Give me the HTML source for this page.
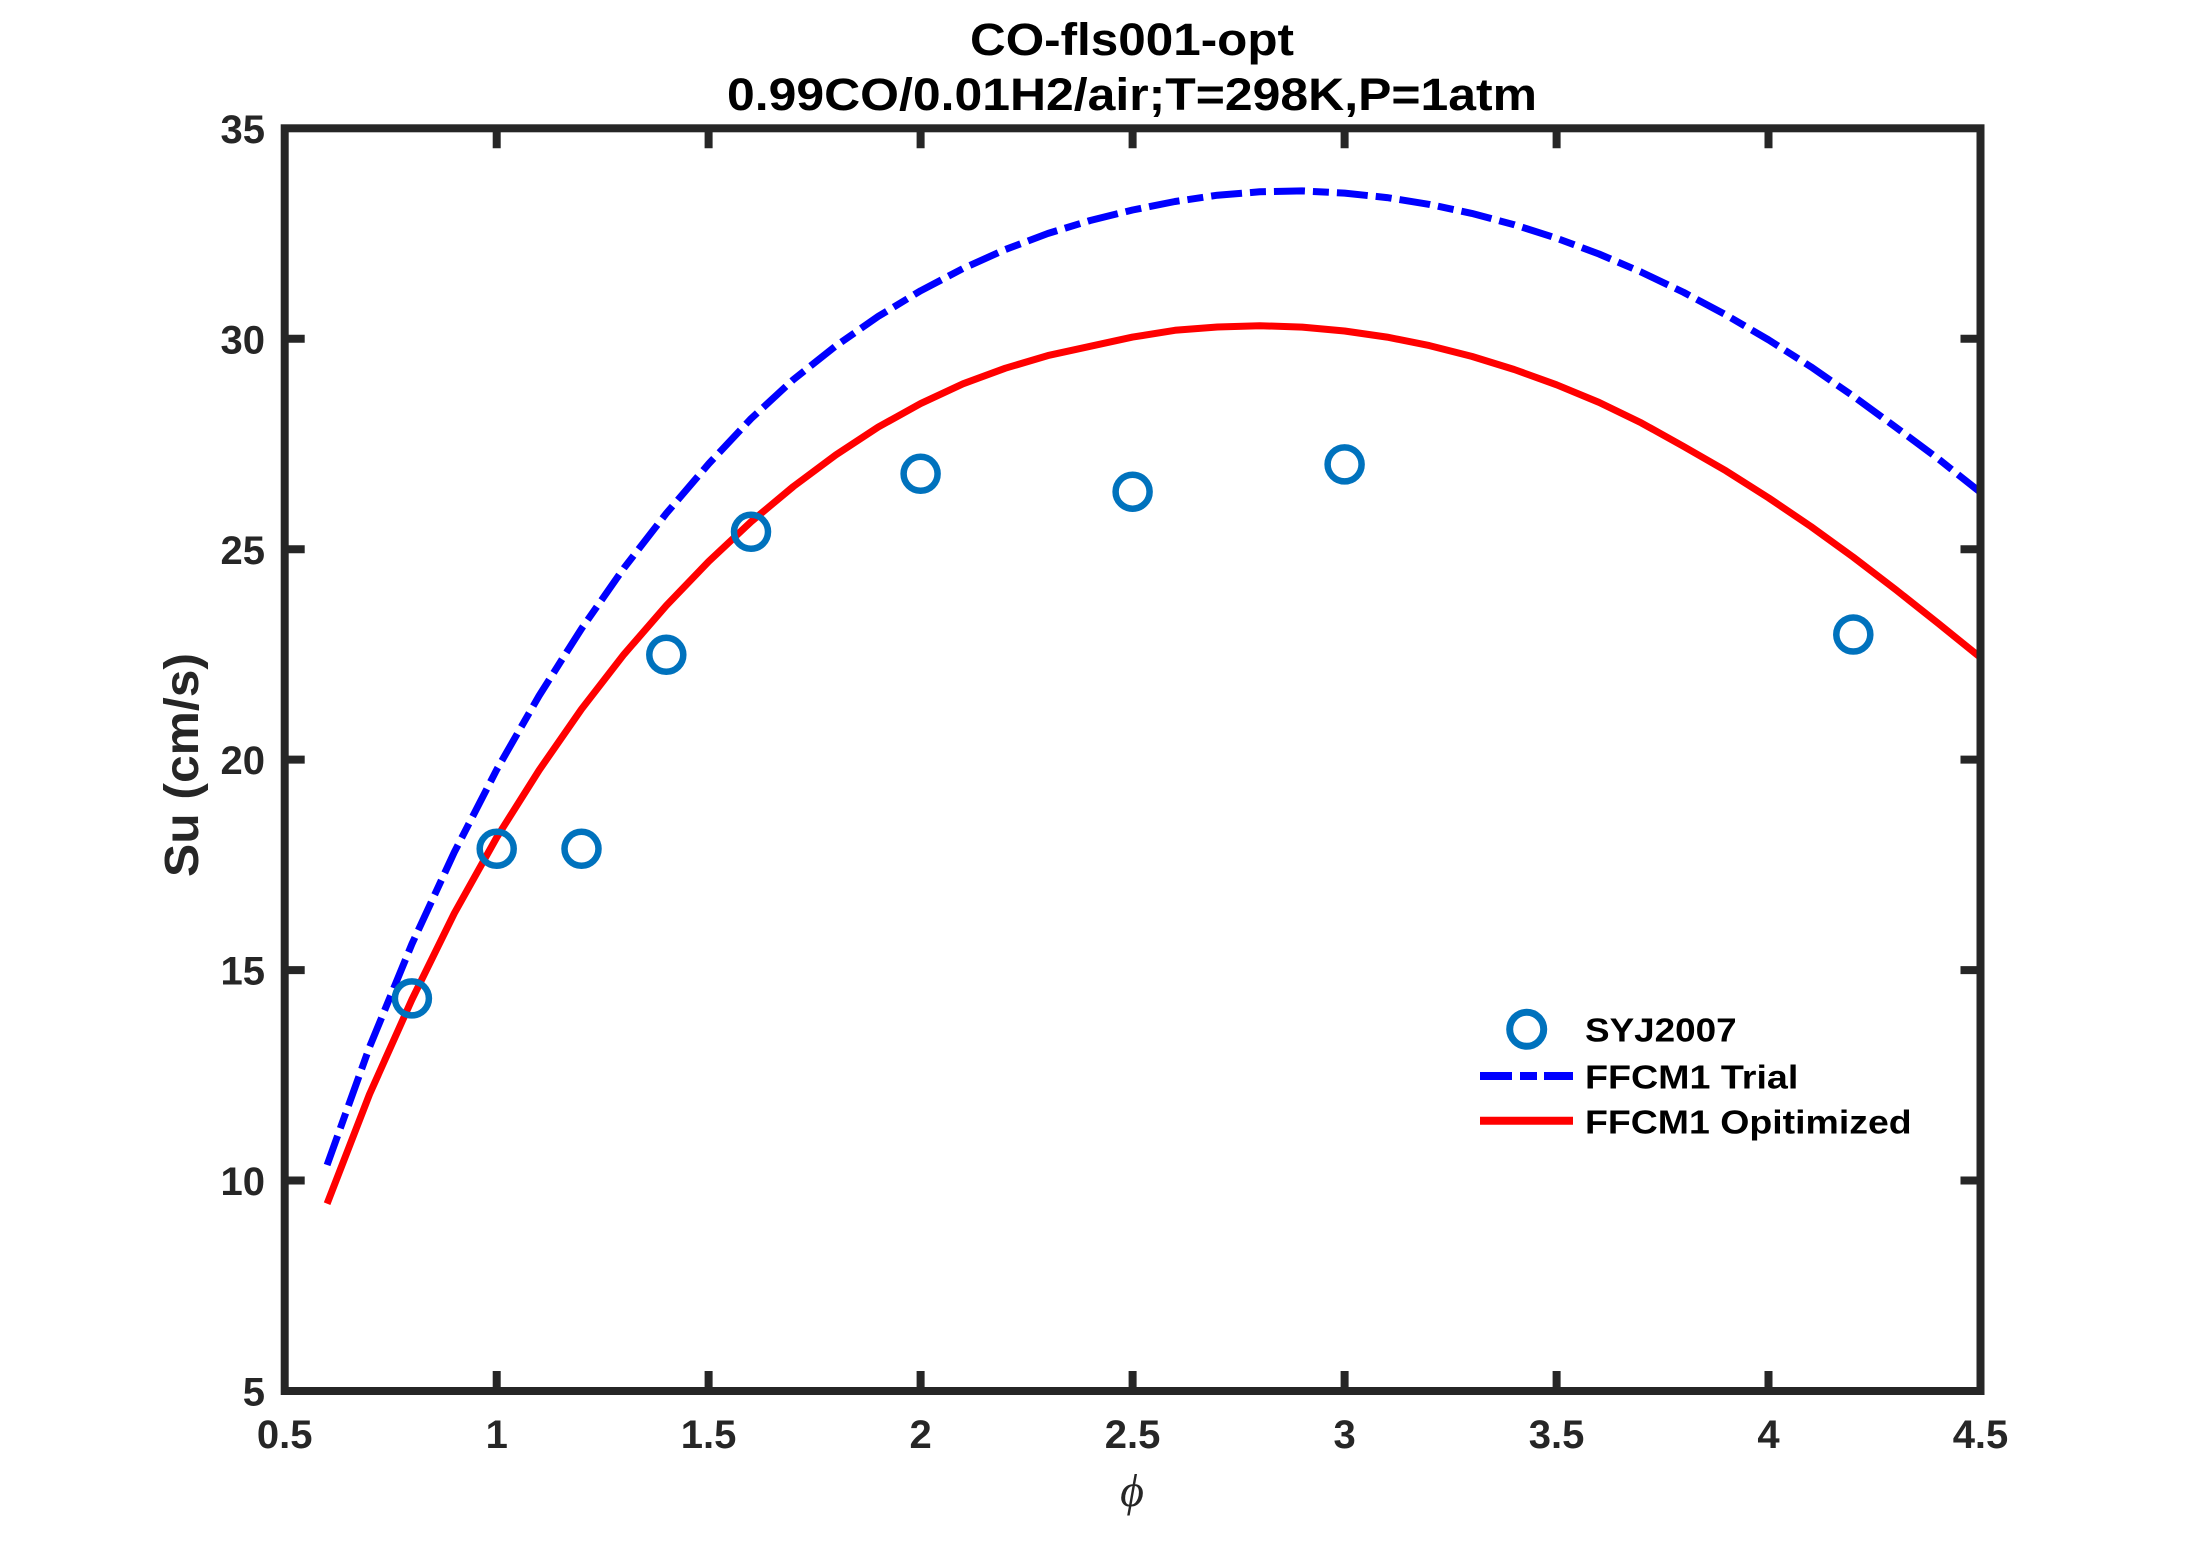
<!DOCTYPE html>
<html>
<head>
<meta charset="utf-8">
<style>
html,body{margin:0;padding:0;background:#fff;}
svg{display:block;}
</style>
</head>
<body>
<svg width="2187" height="1563" viewBox="0 0 2187 1563" xmlns="http://www.w3.org/2000/svg">
<rect x="0" y="0" width="2187" height="1563" fill="#ffffff"/>

<!-- Title -->
<g font-family="Liberation Sans, Arial, sans-serif" font-weight="bold" fill="#000" text-anchor="middle">
<text x="1132" y="55" font-size="45" textLength="324" lengthAdjust="spacingAndGlyphs">CO-fls001-opt</text>
<text x="1132" y="110" font-size="45" textLength="810" lengthAdjust="spacingAndGlyphs">0.99CO/0.01H2/air;T=298K,P=1atm</text>
</g>

<defs>
<clipPath id="ax"><rect x="284.7" y="128.3" width="1695.8" height="1262.7"/></clipPath>
</defs>

<!-- Data -->
<g clip-path="url(#ax)" fill="none" stroke-linejoin="round">
<polyline stroke="#0000ff" stroke-width="7" stroke-dasharray="31 8 16 8" stroke-linecap="butt"
points="327.1,1165 369.5,1047.1 411.9,944 454.3,852.2 496.7,769.7 539.1,695.7 581.5,628.7 623.9,568.1 666.3,513.4 708.7,463.8 751,418.7 793.4,379.6 835.8,345.9 878.2,316.4 920.6,290.8 963,268.5 1005.4,249.5 1047.8,233.5 1090.2,220.5 1132.6,210 1175,201.5 1217.4,195.2 1259.8,191.8 1302.2,190.9 1344.6,193.1 1387,197.6 1429.4,204.4 1471.8,213.4 1514.2,224.7 1556.6,238.2 1599,254 1641.3,272.1 1683.7,292.4 1726.1,315 1768.5,339.8 1810.9,366.8 1853.3,396.2 1895.7,427.2 1938.1,458.7 1980.5,492.4"/>
<polyline stroke="#ff0000" stroke-width="7"
points="327.1,1203.7 369.5,1094.3 411.9,999.6 454.3,913.3 496.7,837.5 539.1,770.2 581.5,709.1 623.9,654.4 666.3,605.6 708.7,561.4 751,521.8 793.4,486.5 835.8,454.9 878.2,427.1 920.6,403.6 963,383.8 1005.4,368.2 1047.8,355.6 1090.2,346.3 1132.6,337.1 1175,330.3 1217.4,327 1259.8,325.7 1302.2,327.1 1344.6,331 1387,337.1 1429.4,345.6 1471.8,356.4 1514.2,369.5 1556.6,384.8 1599,402.4 1641.3,422.9 1683.7,446.5 1726.1,470.9 1768.5,497.8 1810.9,526.5 1853.3,557.2 1895.7,589.6 1938.1,623.3 1980.5,657.5"/>
<g stroke="#0072bd" stroke-width="6.5">
<circle cx="411.9" cy="998.4" r="17"/>
<circle cx="496.7" cy="848.8" r="17"/>
<circle cx="581.5" cy="848.8" r="17"/>
<circle cx="666.3" cy="654.8" r="17"/>
<circle cx="751" cy="531.8" r="17"/>
<circle cx="920.6" cy="473.8" r="17"/>
<circle cx="1132.6" cy="491.7" r="17"/>
<circle cx="1344.6" cy="464.4" r="17"/>
<circle cx="1853.3" cy="634.5" r="17"/>
</g>
</g>

<!-- Axes box and ticks -->
<g stroke="#262626" stroke-width="8" fill="none">
<rect x="284.7" y="128.3" width="1695.8" height="1262.7" stroke-linejoin="miter"/>
<path d="M496.7,1391V1371 M708.6,1391V1371 M920.6,1391V1371 M1132.6,1391V1371 M1344.6,1391V1371 M1556.6,1391V1371 M1768.5,1391V1371
M496.7,128.3V148.3 M708.6,128.3V148.3 M920.6,128.3V148.3 M1132.6,128.3V148.3 M1344.6,128.3V148.3 M1556.6,128.3V148.3 M1768.5,128.3V148.3
M284.7,1180.5H304.7 M284.7,970.1H304.7 M284.7,759.6H304.7 M284.7,549.2H304.7 M284.7,338.75H304.7
M1980.5,1180.5H1960.5 M1980.5,970.1H1960.5 M1980.5,759.6H1960.5 M1980.5,549.2H1960.5 M1980.5,338.75H1960.5"/>
</g>

<!-- Tick labels -->
<g font-family="Liberation Sans, Arial, sans-serif" font-weight="bold" font-size="40" fill="#262626">
<g text-anchor="middle">
<text x="284.7" y="1448">0.5</text>
<text x="496.7" y="1448">1</text>
<text x="708.6" y="1448">1.5</text>
<text x="920.6" y="1448">2</text>
<text x="1132.6" y="1448">2.5</text>
<text x="1344.6" y="1448">3</text>
<text x="1556.6" y="1448">3.5</text>
<text x="1768.5" y="1448">4</text>
<text x="1980.5" y="1448">4.5</text>
</g>
<g text-anchor="end">
<text x="265" y="1405.6">5</text>
<text x="265" y="1195.1">10</text>
<text x="265" y="984.7">15</text>
<text x="265" y="774.2">20</text>
<text x="265" y="563.8">25</text>
<text x="265" y="353.3">30</text>
<text x="265" y="142.8">35</text>
</g>
</g>

<!-- Axis labels -->
<text transform="translate(198,765) rotate(-90)" text-anchor="middle" font-family="Liberation Sans, Arial, sans-serif" font-weight="bold" font-size="48" fill="#262626" textLength="224" lengthAdjust="spacingAndGlyphs">Su (cm/s)</text>
<text x="1132" y="1506" text-anchor="middle" font-family="Liberation Serif, DejaVu Serif, serif" font-style="italic" font-size="46" fill="#262626">ϕ</text>

<!-- Legend -->
<circle cx="1526.7" cy="1029.3" r="17" fill="none" stroke="#0072bd" stroke-width="7"/>
<line x1="1480" y1="1076" x2="1573" y2="1076" stroke="#0000ff" stroke-width="8" stroke-dasharray="32 8 17 7"/>
<line x1="1480" y1="1120.7" x2="1573" y2="1120.7" stroke="#ff0000" stroke-width="8"/>
<g font-family="Liberation Sans, Arial, sans-serif" font-weight="bold" font-size="33" fill="#000">
<text x="1585" y="1041.7" textLength="151.7" lengthAdjust="spacingAndGlyphs">SYJ2007</text>
<text x="1585" y="1088.3" textLength="213.3" lengthAdjust="spacingAndGlyphs">FFCM1 Trial</text>
<text x="1585" y="1133.3" textLength="326.7" lengthAdjust="spacingAndGlyphs">FFCM1 Opitimized</text>
</g>
</svg>
</body>
</html>
